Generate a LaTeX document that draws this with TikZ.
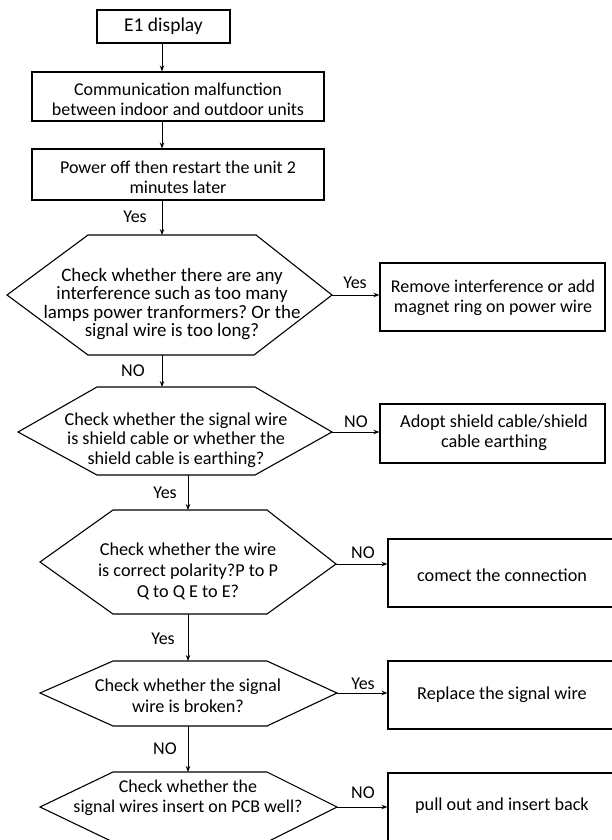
\documentclass[tikz,border=0pt]{standalone}
\usepackage{fontspec}
\setmainfont{Carlito}
\usetikzlibrary{arrows.meta}
\frenchspacing
\tikzset{
  arr/.style={line width=1pt,-{Stealth[length=6pt,width=4.5pt]}},
  stepbox/.style={draw,line width=1.1pt,inner sep=0pt,align=center,font=\fontsize{19.5}{20}\selectfont},
  hexline/.style={draw,line width=1.1pt,line join=miter},
  hextext/.style={align=center,inner sep=0pt,font=\fontsize{18.2}{19.5}\selectfont},
  boxtext/.style={align=center,inner sep=0pt,font=\fontsize{18}{20}\selectfont},
  lbl/.style={inner sep=0pt,font=\fontsize{18}{19}\selectfont},
}
\begin{document}
\begin{tikzpicture}[x=1pt,y=-1pt]
\useasboundingbox (0,0) rectangle (612,840);
\fill[white] (0,0) rectangle (612,840);
\clip (0,0) rectangle (612,840);

% ---- left column boxes
\node[stepbox,minimum width=133pt,minimum height=33pt] (e1) at (163.5,26.5) {E1 display};
\node[stepbox,minimum width=292pt,minimum height=49pt] (b2) at (178,96.5) {};
\node[boxtext] (b2t) at (178,99) {Communication malfunction\\between indoor and outdoor units};
\node[stepbox,minimum width=292pt,minimum height=51pt] (b3) at (178,174.5) {};
\node[boxtext] (b3t) at (178,177) {Power off then restart the unit 2\\minutes later};

% ---- hexagons (decision shapes)
\coordinate (h1-l) at (7,295);   \coordinate (h1-r) at (332,295);
\coordinate (h1-in) at (162,235); \coordinate (h1-out) at (162,355);
\draw[hexline] (h1-l) -- (88,235) -- (256,235) -- (h1-r) -- (254,355) -- (88,355) -- cycle;
\node[hextext,font=\fontsize{18.9}{18.5}\selectfont] (h1t) at (172,304) {Check whether there are any\\interference such as too many\\lamps power tranformers? Or the\\signal wire is too long?};

\coordinate (h2-l) at (18,432);   \coordinate (h2-r) at (332,432);
\coordinate (h2-in) at (162,387); \coordinate (h2-out) at (188,475);
\draw[hexline] (h2-l) -- (97,387) -- (255,387) -- (h2-r) -- (255,475) -- (97,475) -- cycle;
\node[hextext] (h2t) at (176,440) {Check whether the signal wire\\is shield cable or whether the\\shield cable is earthing?};

\coordinate (h3-l) at (40,562);   \coordinate (h3-r) at (336,564);
\coordinate (h3-in) at (188,510); \coordinate (h3-out) at (188,614);
\draw[hexline] (h3-l) -- (113,510) -- (267,510) -- (h3-r) -- (267,614) -- (113,614) -- cycle;
\node[hextext,font=\fontsize{18.2}{21}\selectfont] (h3t) at (188,571) {Check whether the wire\\is correct polarity?P to P\\Q to Q E to E?};

\coordinate (h4-l) at (40,693);   \coordinate (h4-r) at (337,693);
\coordinate (h4-in) at (188,661); \coordinate (h4-out) at (188,726);
\draw[hexline] (h4-l) -- (113,661) -- (267,661) -- (h4-r) -- (267,726) -- (113,726) -- cycle;
\node[hextext,font=\fontsize{18.2}{21}\selectfont] (h4t) at (188,696) {Check whether the signal\\wire is broken?};

\coordinate (h5-l) at (40,807);   \coordinate (h5-r) at (337,807);
\coordinate (h5-in) at (188,772);
\draw[hexline] (h5-l) -- (113,772) -- (267,772) -- (h5-r) -- (267,842) -- (113,842) -- cycle;
\node[hextext,font=\fontsize{18}{20}\selectfont] (h5t) at (188,798) {Check whether the\\signal wires insert on PCB well?};

% ---- right column boxes
\node[stepbox,minimum width=225pt,minimum height=68pt] (r1) at (492.5,297) {};
\node[boxtext] (r1t) at (493,298) {Remove interference or add\\magnet ring on power wire};
\node[stepbox,minimum width=225pt,minimum height=59pt] (r2) at (492.5,433.5) {};
\node[boxtext,font=\fontsize{18.3}{20}\selectfont] (r2t) at (494,433) {Adopt shield cable/shield\\cable earthing};
\node[stepbox,minimum width=226pt,minimum height=68pt] (r3) at (501,573) {};
\node[boxtext,font=\fontsize{18.2}{20}\selectfont] (r3t) at (502,575) {comect the connection};
\node[stepbox,minimum width=226pt,minimum height=68pt] (r4) at (501,695) {};
\node[boxtext,font=\fontsize{18.2}{20}\selectfont] (r4t) at (502,695) {Replace the signal wire};
\node[stepbox,minimum width=226pt,minimum height=77pt] (r5) at (501,811.5) {};
\node[boxtext,font=\fontsize{18.2}{20}\selectfont] (r5t) at (502,806) {pull out and insert back};

% ---- vertical connectors
\draw[arr] (e1.south -| h1-in) -- (b2.north -| h1-in);
\draw[arr] (b2.south -| h1-in) -- (b3.north -| h1-in);
\draw[arr] (b3.south -| h1-in) -- (h1-in);
\draw[arr] (h1-out) -- (h2-in);
\draw[arr] (h2-out) -- (h3-in);
\draw[arr] (h3-out) -- (h4-in);
\draw[arr] (h4-out) -- (h5-in);

% ---- horizontal connectors
\draw[arr] (h1-r) -- (h1-r -| r1.west);
\draw[arr] (h2-r) -- (h2-r -| r2.west);
\draw[arr] (h3-r) -- (h3-r -| r3.west);
\draw[arr] (h4-r) -- (h4-r -| r4.west);
\draw[arr] (h5-r) -- (h5-r -| r5.west);

% ---- labels
\node[lbl] (l1) at (135,217) {Yes};
\node[lbl] (l2) at (133,371) {NO};
\node[lbl] (l3) at (165,493) {Yes};
\node[lbl] (l4) at (163,639) {Yes};
\node[lbl] (l5) at (165,749) {NO};
\node[lbl] (l6) at (355,283) {Yes};
\node[lbl] (l7) at (356,422) {NO};
\node[lbl] (l8) at (363,553) {NO};
\node[lbl] (l9) at (363,684) {Yes};
\node[lbl] (l10) at (363,793) {NO};
\end{tikzpicture}
\end{document}
